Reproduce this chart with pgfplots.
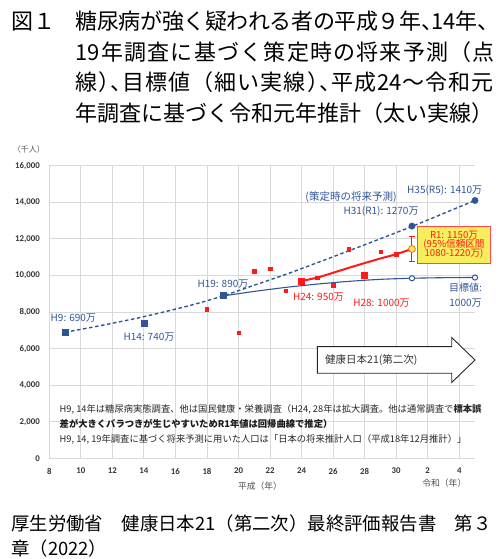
\documentclass[border=0pt]{standalone}
\usepackage{pgfplots}
\pgfplotsset{compat=1.18}
\usepackage{fontspec}
\setmainfont{Noto Sans CJK JP}
\newfontfamily\numfont{Carlito}
\definecolor{cblue}{HTML}{2F5597}
\definecolor{cred}{HTML}{FF1A1A}
\definecolor{cyel}{HTML}{F7EE5E}
\definecolor{cgrid}{HTML}{D9D9D9}
\newcommand\fs[1]{\fontsize{#1}{#1}\selectfont}
\newcommand\hwl[1]{\makebox[0.5em][l]{#1}}
\makeatletter
\newcommand\spread[2]{\makebox[#1][s]{\@tfor\@ch:=#2\do{\@ch\hskip0pt plus 1fil minus 1fil}\unskip}}
\makeatother

\begin{document}
\begin{tikzpicture}
\path[use as bounding box] (-49.3pt,-100.5pt) rectangle (450.7pt,458.5pt);
\begin{axis}[
  at={(0pt,0pt)}, anchor=south west,
  scale only axis, width=425.7pt, height=292.8pt,
  xmin=8, xmax=35, ymin=0, ymax=16000,
  scaled y ticks=false,
  xtick={8,10,...,34},
  xticklabels={8,10,12,14,16,18,20,22,24,26,28,30,2,4},
  ytick={0,2000,...,16000},
  yticklabels={0,{2,000},{4,000},{6,000},{8,000},{10,000},{12,000},{14,000},{16,000}},
  grid=major, major grid style={draw=cgrid, line width=0.9pt},
  axis line style={draw=none},
  tick style={draw=none},
  ticklabel style={font=\numfont\bfseries\fs{8.8}, text=black!80, inner sep=0pt},
  yticklabel style={anchor=east, xshift=-9.3pt},
  xticklabel style={anchor=north, yshift=-9.3pt},
  clip=false,
]
% projection at planning time (dashed)
\addplot[cblue, line width=1.4pt, dash pattern=on 3.5pt off 2.6pt, smooth] coordinates {
  (9,6900) (11,7220) (14,7750) (17,8380) (19,8880) (21,9470) (23,10060)
  (25,10700) (27,11350) (29,12010) (31,12680) (33,13390) (35,14100)};
% target (thin solid)
\addplot[cblue, line width=1.1pt, smooth] coordinates {
  (19,8880) (21,9130) (23,9350) (25,9530) (27,9680) (29,9790) (31,9850) (33,9880) (35,9890)};
\addplot[only marks, mark=*, mark size=2.6pt, mark options={fill=white, draw=cblue, line width=1pt}] coordinates {
  (31,9850) (35,9890)};
% surveys H9, H14, H19
\addplot[only marks, mark=square*, mark size=3pt, cblue] coordinates {
  (9,6900) (14,7400) (19,8900)};
\addplot[only marks, mark=*, mark size=3.2pt, cblue] coordinates {
  (31,12700) (35,14100)};
% yearly survey values
\addplot[only marks, mark=square*, mark size=1.7pt, cred] coordinates {
  (18,8150) (20,6860) (21,10230) (22,10370) (23,9180) (25,9880)
  (26,9470) (27,11430) (29,11300) (30,11160)};
\addplot[only marks, mark=square*, mark size=3pt, cred] coordinates {
  (24,9700) (28,10000)};
% regression (thick solid)
\addplot[cred, line width=2pt] coordinates {
  (24,9700) (25,9880) (26,10150) (27,10420) (28,10680) (29,10930) (30,11160) (31,11450)};
% R1 estimate with 95% CI
\addplot[only marks, mark=*, mark size=3.4pt, mark options={fill=cyel, draw=orange!80!red, line width=0.8pt},
  error bars/.cd, y dir=both, y explicit,
  error bar style={cred, line width=1.1pt},
  error mark options={rotate=90, mark size=3.2pt, cred, line width=1.1pt}]
  coordinates {(31,11450) +- (0,680)};
\end{axis}

\begin{scope}[x=1pt, y=-1pt, shift={(-49.3pt,458.5pt)}]
% title
\node[anchor=base west, inner sep=0pt, font=\fs{22}] at (11.5,29.9) {図１};
\node[anchor=base west, inner sep=0pt, font=\fs{22}] at (75.5,29.9) {\spread{423.5pt}{糖尿病が強く疑われる者の平成９年{\hwl{、}}{14}年、}};
\node[anchor=base west, inner sep=0pt, font=\fs{22}] at (75.5,60.4) {\spread{419pt}{{19}年調査に基づく策定時の将来予測（点}};
\node[anchor=base west, inner sep=0pt, font=\fs{22}] at (75.5,90.9) {\spread{418pt}{線{\hwl{）}}{\hwl{、}}目標値（細い実線{\hwl{）}}{\hwl{、}}平成{24}～令和元}};
\node[anchor=base west, inner sep=0pt, font=\fs{22}] at (75.5,121.4) {年調査に基づく令和元年推計（太い実線）};
% footer
\node[anchor=base west, inner sep=0pt, font=\fs{18.4}] at (11,530.3) {厚生労働省　健康日本21（第二次）最終評価報告書　第３};
\node[anchor=base west, inner sep=0pt, font=\fs{18.4}] at (11,555.3) {章（2022）};
% axis captions
\node[inner sep=0pt, font=\fs{8}, text=black!65] at (29,149.3) {（千人）};
\node[inner sep=0pt, font=\fs{8.8}, text=black!70] at (260,485.7) {平成（年）};
\node[inner sep=0pt, font=\fs{8.8}, text=black!70] at (444.3,483.3) {令和（年）};
% data labels
\node[anchor=west, inner sep=0pt, font=\fs{10}, text=cblue] at (50.5,318.3) {H9: 690万};
\node[inner sep=0pt, font=\fs{10}, text=cblue] at (149,336.7) {H14: 740万};
\node[inner sep=0pt, font=\fs{10}, text=cblue] at (223,284.3) {H19: 890万};
\node[inner sep=0pt, font=\fs{10.5}, text=cblue] at (351,196.7) {(策定時の将来予測)};
\node[inner sep=0pt, font=\fs{10}, text=cblue] at (444.7,190) {H35(R5): 1410万};
\node[inner sep=0pt, font=\fs{10}, text=cblue] at (381,211.7) {H31(R1): 1270万};
\node[inner sep=0pt, font=\fs{10}, text=cred] at (318.5,296.7) {H24: 950万};
\node[inner sep=0pt, font=\fs{10}, text=cred] at (381.5,302.7) {H28: 1000万};
\node[inner sep=0pt, font=\fs{10}, text=cblue] at (465.5,288) {目標値:};
\node[inner sep=0pt, font=\fs{10}, text=cblue] at (465.5,303) {1000万};
% R1 box
\draw[draw=cred!80, fill=cyel, line width=0.9pt] (417.3,226) rectangle (490.7,263.3);
\node[inner sep=0pt, font=\fs{9.6}, text=cred] at (454,235) {R1: 1150万};
\node[inner sep=0pt, font=\fs{9.6}, text=cred] at (454,244.7) {(95\%信頼区間};
\node[inner sep=0pt, font=\fs{9.6}, text=cred] at (454,253.9) {1080-1220万)};
% Health Japan 21 arrow
\draw[fill=white, draw=black!85, line width=0.9pt] (317.3,346.7) -- (451.7,346.7) -- (451.7,337.5)
  -- (475,360) -- (451.7,382.5) -- (451.7,373.3) -- (317.3,373.3) -- cycle;
\node[anchor=west, inner sep=0pt, font=\fs{10.5}, text=black!80] at (325,360) {健康日本21(第二次)};
% notes
\node[anchor=west, inner sep=0pt, font=\fs{9.3}, text=black!85] at (59.5,409.3)
  {H9, 14年は糖尿病実態調査、他は国民健康・栄養調査（H24, 28年は拡大調査。他は通常調査で\textbf{標本誤}};
\node[anchor=west, inner sep=0pt, font=\fs{9.3}\bfseries, text=black!90] at (59.5,424)
  {差が大きくバラつきが生じやすいためR1年値は回帰曲線で推定）};
\node[anchor=west, inner sep=0pt, font=\fs{9.3}, text=black!85] at (59.5,439.3)
  {H9, 14, 19年調査に基づく将来予測に用いた人口は「日本の将来推計人口（平成18年12月推計）」};
\end{scope}
\end{tikzpicture}
\end{document}
